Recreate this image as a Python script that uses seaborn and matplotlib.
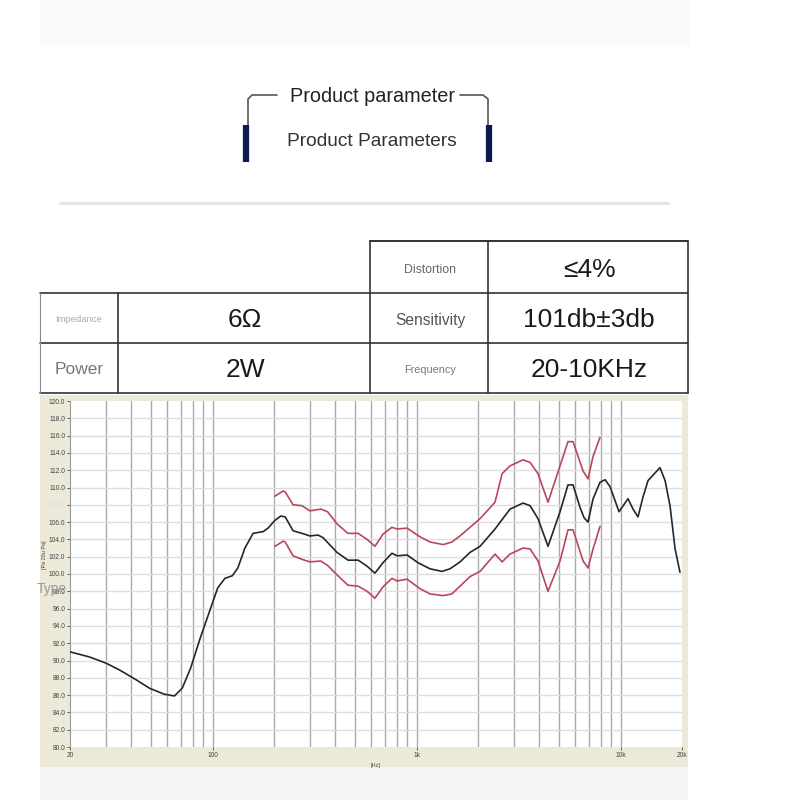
import numpy as np
import pandas as pd
import matplotlib
matplotlib.use("Agg")
import matplotlib.pyplot as plt
import seaborn as sns
from matplotlib.lines import Line2D
from matplotlib.patches import Rectangle
from matplotlib.ticker import FixedLocator, FixedFormatter, NullLocator

# frequency response (typical)
typ_freq = [20, 25, 30, 35, 42, 49, 58, 65, 71, 78, 87, 97, 106, 115, 125, 133, 144,
            158, 177, 187, 202, 216, 227, 248, 274, 300, 329, 348, 407, 461, 517, 572,
            625, 684, 757, 802, 898, 1017, 1164, 1333, 1458, 1633, 1828, 2047, 2423,
            2870, 3326, 3600, 3937, 4408, 5048, 5522, 5848, 6325, 6622, 6924, 7330,
            7928, 8395, 8876, 9823, 10870, 11510, 12170, 12880, 13630, 15600, 16520,
            17470, 18500, 19550]
typ_db = [91.0, 90.4, 89.7, 88.9, 87.8, 86.8, 86.1, 85.9, 86.8, 89.1, 92.6, 95.8, 98.4,
          99.5, 99.8, 100.7, 103.0, 104.7, 104.9, 105.3, 106.2, 106.7, 106.6, 105.0,
          104.7, 104.4, 104.5, 104.2, 102.5, 101.6, 101.6, 100.9, 100.1, 101.3, 102.4,
          102.1, 102.2, 101.3, 100.6, 100.3, 100.6, 101.4, 102.5, 103.2, 105.2, 107.5,
          108.2, 107.9, 106.4, 103.2, 107.2, 110.3, 110.3, 107.7, 106.5, 106.0, 108.7,
          110.6, 110.9, 110.1, 107.2, 108.7, 107.5, 106.6, 108.9, 110.8, 112.3, 110.8,
          107.9, 102.9, 100.2]

# tolerance band
tol_freq = [202, 222, 227, 248, 274, 300, 339, 366, 407, 461, 517, 572, 625, 684, 757,
            802, 898, 1040, 1164, 1350, 1490, 1633, 1828, 2047, 2423, 2626, 2870, 3326,
            3600, 3937, 4408, 5048, 5522, 5848, 6550, 6924, 7330, 7928]
upper_db = [109.0, 109.6, 109.5, 108.0, 107.9, 107.3, 107.5, 107.2, 105.8, 104.7, 104.7,
            104.0, 103.2, 104.6, 105.4, 105.2, 105.3, 104.3, 103.7, 103.4, 103.7, 104.4,
            105.4, 106.4, 108.3, 111.6, 112.5, 113.2, 112.9, 111.6, 108.3, 112.5, 115.3,
            115.3, 111.9, 111.0, 113.6, 115.8]
lower_db = [103.2, 103.8, 103.7, 102.1, 101.7, 101.4, 101.5, 101.0, 99.9, 98.7, 98.6,
            98.0, 97.2, 98.5, 99.5, 99.2, 99.4, 98.3, 97.7, 97.5, 97.7, 98.6, 99.7, 100.3,
            102.3, 101.4, 102.3, 103.0, 102.9, 101.5, 98.0, 101.5, 105.1, 105.1, 101.5,
            100.7, 102.9, 105.5]

table_rows = [
    ["", "", "Distortion", "≤4%"],
    ["Impedance", "6Ω", "Sensitivity", "101db±3db"],
    ["Power", "2W", "Frequency", "20-10KHz"],
]

df = pd.concat([
    pd.DataFrame({"freq": typ_freq, "spl": typ_db, "curve": "typ"}),
    pd.DataFrame({"freq": tol_freq, "spl": upper_db, "curve": "upper"}),
    pd.DataFrame({"freq": tol_freq, "spl": lower_db, "curve": "lower"}),
])

sns.set_style("white")
plt.rcParams['font.family'] = ['Liberation Sans', 'DejaVu Sans']
narrow = ['Liberation Sans Narrow', 'Liberation Sans', 'DejaVu Sans']

fig = plt.figure(figsize=(8, 8), dpi=100)
fig.patch.set_facecolor("white")

def px(x):
    return x / 800

def py(y):
    return 1 - y / 800

def fline(xs, ys, **kw):
    fig.add_artist(Line2D([px(v) for v in xs], [py(v) for v in ys],
                          transform=fig.transFigure, **kw))

def frect(x0, y0, x1, y1, color):
    fig.add_artist(Rectangle((px(x0), py(y1)), px(x1) - px(x0), py(y0) - py(y1),
                             transform=fig.transFigure, color=color, lw=0, zorder=0))

# page background blocks
frect(40, 0, 690, 45, "#f9fafc")
frect(40, 395, 688, 767, "#ece9d9")
frect(40, 767, 688, 800, "#f4f4f4")

# heading with brackets
fig.text(px(372), py(96), "Product parameter", ha="center", va="center",
         fontsize=14.3, color="#222")
fig.text(px(372), py(142), "Product Parameters", ha="center", va="center",
         fontsize=13.8, color="#333")
fline([277, 252, 248, 248], [95, 95, 99, 125], color="#555", lw=1.2)
fline([460, 483, 488, 488], [95, 95, 99, 125], color="#555", lw=1.2)
fline([246, 246], [125, 162], color="#0c1a52", lw=4.5, solid_capstyle="butt")
fline([489, 489], [125, 162], color="#0c1a52", lw=4.5, solid_capstyle="butt")
fline([60, 668], [203, 203], color="#e2e2e2", lw=2)

# parameter table
tc = "#333"
fline([370, 688], [241, 241], color=tc, lw=1.4)
for yy in [293, 343, 393]:
    fline([40, 688], [yy, yy], color=tc, lw=1.2)
for xx in [370, 488, 688]:
    fline([xx, xx], [241, 393], color=tc, lw=1.2)
fline([118, 118], [293, 393], color=tc, lw=1.2)
fline([40, 40], [293, 393], color="#888", lw=0.8)

col_x = [79, 245, 430, 589]
row_y = [270, 320, 370]
label_style = {
    "Distortion": (8.8, "#666"),
    "Impedance": (6.8, "#aaa"),
    "Sensitivity": (11.2, "#555"),
    "Power": (12.5, "#777"),
    "Frequency": (7.8, "#777"),
}
for r, row in enumerate(table_rows):
    for c, txt in enumerate(row):
        if not txt:
            continue
        if txt in label_style:
            fs, col = label_style[txt]
        else:
            fs, col = 19, "#1a1a1a"
        fig.text(px(col_x[c]), py(row_y[r]), txt, ha="center", va="center",
                 fontsize=fs, color=col, family=narrow)

# frequency response chart
ax = fig.add_axes([px(70), py(747), px(682) - px(70), py(401) - py(747)])
ax.set_facecolor("white")
ax.set_xscale("log")
ax.set_xlim(20, 20000)
ax.set_ylim(80, 120)

minor = [f * d for d in [10, 100, 1000] for f in range(2, 10)] + [100, 1000, 10000]
minor = [m for m in minor if 20 < m < 20000]
for m in minor:
    ax.axvline(m, color="#a9a9a9", lw=1.0, zorder=1)
for yv in range(82, 120, 2):
    ax.axhline(yv, color="#dedede", lw=1.0, zorder=1)

sns.lineplot(data=df, x="freq", y="spl", hue="curve", sort=False, estimator=None,
             palette={"typ": "#262626", "upper": "#b9475b", "lower": "#b9475b"},
             linewidth=1.2, legend=False, ax=ax, zorder=3)

yt = list(range(80, 121, 2))
ax.yaxis.set_major_locator(FixedLocator(yt))
ax.yaxis.set_major_formatter(FixedFormatter([f"{v:.1f}" for v in yt]))
ax.xaxis.set_major_locator(FixedLocator([20, 100, 1000, 10000, 20000]))
ax.xaxis.set_major_formatter(FixedFormatter(["20", "100", "1k", "10k", "20k"]))
ax.xaxis.set_minor_locator(NullLocator())
ax.tick_params(axis="both", labelsize=4.8, length=2, width=0.6, colors="#444",
               pad=1.5, direction="out")
ax.tick_params(axis="y", left=True)
ax.tick_params(axis="x", bottom=True)
for lab in ax.get_yticklabels():
    if lab.get_text() == "108.0":
        lab.set_color("#dddddd")
ax.set_xlabel("[Hz]", fontsize=4, color="#444", labelpad=3)
ax.set_ylabel("[Pa 20u Pa]", fontsize=4, color="#444")
ax.yaxis.set_label_coords(-0.038, 0.555)
for s in ["top", "right"]:
    ax.spines[s].set_visible(False)
ax.spines["left"].set_color("#9a9a9a")
ax.spines["bottom"].set_visible(False)
fig.text(px(37), py(589), "Type", fontsize=10, color="#999", va="center", ha="left",
         zorder=10)

fig.savefig("out.png", dpi=100, facecolor="white")
